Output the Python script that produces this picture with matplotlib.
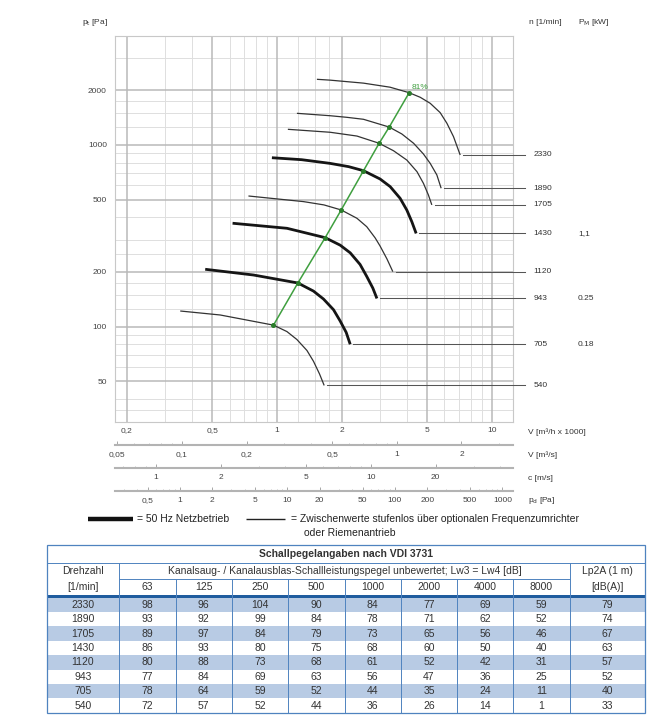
import matplotlib
matplotlib.use('Agg')
import matplotlib.pyplot as plt
from matplotlib.ticker import FixedLocator, FixedFormatter, NullLocator, NullFormatter
from matplotlib.patches import Rectangle

plt.rcParams['font.family'] = ['Liberation Sans', 'DejaVu Sans']

# ---------------- data ----------------
speeds = [2330, 1890, 1705, 1430, 1120, 943, 705, 540]
thick_50hz = [False, False, False, True, False, True, True, False]
motor_kw = ['', '', '', '1,1', '', '0.25', '0.18', '']

v_2330 = [1.53, 1.76, 2.52, 3.35, 4.11, 4.63, 5.15, 5.73, 6.16, 6.61, 7.10]
p_2330 = [2299, 2275, 2190, 2080, 1940, 1830, 1696, 1507, 1316, 1111, 881]
v_1890 = [1.235, 1.764, 2.11, 2.52, 3.32, 3.80, 4.31, 4.79, 5.15, 5.53, 5.79]
p_1890 = [1494, 1449, 1420, 1385, 1255, 1150, 1022, 892, 792, 684, 578]
v_1705 = [1.121, 1.764, 2.35, 2.98, 3.475, 4.01, 4.47, 4.79, 5.05, 5.24]
p_1705 = [1220, 1175, 1120, 1022, 930, 826, 713, 615, 531, 468]
v_1430 = [0.945, 1.30, 1.764, 2.15, 2.52, 3.01, 3.354, 3.73, 4.01, 4.23, 4.43]
p_1430 = [851, 830, 792, 760, 722, 650, 590, 509, 438, 378, 326]
v_1120 = [0.735, 1.325, 1.65, 1.985, 2.35, 2.61, 2.856, 3.01, 3.24, 3.45]
p_1120 = [524, 488, 468, 439, 395, 355, 308, 278, 236, 201]
v_943 = [0.62, 1.11, 1.672, 1.963, 2.186, 2.43, 2.61, 2.786, 2.91]
p_943 = [371, 348, 309, 281, 255, 220, 189, 163, 143]
v_705 = [0.4625, 0.776, 1.248, 1.475, 1.642, 1.828, 1.963, 2.094, 2.186]
p_705 = [207, 192.5, 174, 157, 142, 124, 107.5, 93, 80]
v_540 = [0.354, 0.543, 0.961, 1.11, 1.235, 1.375, 1.475, 1.573, 1.654]
p_540 = [122, 116, 102, 94, 85, 74, 64.5, 55, 47.5]

eff_v = [0.961, 1.248, 1.672, 1.985, 2.52, 2.98, 3.32, 4.11]
eff_p = [102, 174, 309, 439, 722, 1022, 1255, 1940]
eff_label = '81%'

x_ticks = [0.2, 0.5, 1, 2, 5, 10]
x_ticklabels = ['0,2', '0,5', '1', '2', '5', '10']
y_ticks = [50, 100, 200, 500, 1000, 2000]
y_ticklabels = ['50', '100', '200', '500', '1000', '2000']
grid_major_v = [0.2, 0.5, 1, 2, 5, 10]
grid_minor_v = [0.3, 0.4, 0.6, 0.7, 0.8, 0.9, 1.25, 1.5, 1.75, 3, 4, 6, 7, 8, 9]
grid_major_h = [50, 100, 200, 500, 1000, 2000]
grid_minor_h = [35, 40, 60, 70, 80, 90, 125, 150, 175, 250, 300, 400,
                600, 700, 800, 900, 1250, 1500, 1750, 3000]

q_ticks = [0.05, 0.1, 0.2, 0.5, 1, 2]
q_labels = ['0,05', '0,1', '0,2', '0,5', '1', '2']
c_ticks = [1, 2, 5, 10, 20]
c_labels = ['1', '2', '5', '10', '20']
pd_ticks = [0.5, 1, 2, 5, 10, 20, 50, 100, 200, 500, 1000]
pd_labels = ['0,5', '1', '2', '5', '10', '20', '50', '100', '200', '500', '1000']
m3h_per_m3s = 3.6       # 1000 m3/h per m3/s
c_per_v = 3.66          # m/s per 1000 m3/h (outlet area)
rho_half = 0.6          # pd = rho/2 * c^2

table_title = 'Schallpegelangaben nach VDI 3731'
table_freqs = ['63', '125', '250', '500', '1000', '2000', '4000', '8000']
lw_2330 = [98, 96, 104, 90, 84, 77, 69, 59]
lw_1890 = [93, 92, 99, 84, 78, 71, 62, 52]
lw_1705 = [89, 97, 84, 79, 73, 65, 56, 46]
lw_1430 = [86, 93, 80, 75, 68, 60, 50, 40]
lw_1120 = [80, 88, 73, 68, 61, 52, 42, 31]
lw_943 = [77, 84, 69, 63, 56, 47, 36, 25]
lw_705 = [78, 64, 59, 52, 44, 35, 24, 11]
lw_540 = [72, 57, 52, 44, 36, 26, 14, 1]
lp2a = [79, 74, 67, 63, 57, 52, 40, 33]

curves_v = [v_2330, v_1890, v_1705, v_1430, v_1120, v_943, v_705, v_540]
curves_p = [p_2330, p_1890, p_1705, p_1430, p_1120, p_943, p_705, p_540]
lw_rows = [lw_2330, lw_1890, lw_1705, lw_1430, lw_1120, lw_943, lw_705, lw_540]

# ---------------- layout ----------------
W, H = 670, 719
fig = plt.figure(figsize=(W / 100, H / 100), dpi=100)
fig.patch.set_facecolor('white')


def fx(px):
    return px / W


def fy(py):
    return 1 - py / H


AX_L, AX_R, AX_T, AX_B = 115, 513, 35.6, 421.7
ax = fig.add_axes([fx(AX_L), fy(AX_B), fx(AX_R) - fx(AX_L), fy(AX_T) - fy(AX_B)])
ax.set_xscale('log')
ax.set_yscale('log')
ax.set_xlim(0.176, 12.5)
ax.set_ylim(30, 4000)

for v in grid_minor_v:
    ax.axvline(v, color='#dedede', lw=0.7, zorder=1)
for v in grid_major_v:
    ax.axvline(v, color='#b9b9b9', lw=1.1, zorder=1.5)
for p in grid_minor_h:
    ax.axhline(p, color='#dedede', lw=0.7, zorder=1)
for p in grid_major_h:
    ax.axhline(p, color='#b9b9b9', lw=1.1, zorder=1.5)

ax.xaxis.set_major_locator(FixedLocator(x_ticks))
ax.xaxis.set_major_formatter(FixedFormatter(x_ticklabels))
ax.yaxis.set_major_locator(FixedLocator(y_ticks))
ax.yaxis.set_major_formatter(FixedFormatter(y_ticklabels))
ax.xaxis.set_minor_locator(NullLocator())
ax.yaxis.set_minor_locator(NullLocator())
ax.tick_params(axis='x', length=0, labelsize=6, labelcolor='#444', pad=4)
ax.tick_params(axis='y', length=0, labelsize=6, labelcolor='#444', pad=5.8)
for s in ax.spines.values():
    s.set_color('#c8c8c8')
    s.set_linewidth(0.8)

# fan curves
label_line_end = 14.2
label_x = 15.6
kw_x = 25.1
for n, th, vv, pp, kw in zip(speeds, thick_50hz, curves_v, curves_p, motor_kw):
    ax.plot(vv, pp, color='#151515' if th else '#333333', lw=2.0 if th else 0.9,
            zorder=3, solid_capstyle='butt', solid_joinstyle='round')
    ax.plot([vv[-1] * 1.035, label_line_end], [pp[-1], pp[-1]], color='#555555',
            lw=0.75, zorder=3, clip_on=False)
    ax.text(label_x, pp[-1], str(n), fontsize=6, color='#333', va='center',
            ha='left', clip_on=False)
    if kw:
        ax.text(kw_x, pp[-1], kw, fontsize=6, color='#333', va='center',
                ha='left', clip_on=False)

# efficiency line
ax.plot(eff_v, eff_p, color='#3f9f3f', lw=1.1, zorder=4)
ax.plot(eff_v, eff_p, 'o', ms=2.6, color='#2b7d2b', zorder=5)
ax.annotate(eff_label, (eff_v[-1], eff_p[-1]), xytext=(1.5, 1.5),
            textcoords='offset points', fontsize=6, color='#3f9f3f',
            ha='left', va='bottom', zorder=6)

# ---------------- secondary scale bars ----------------
lo, hi = ax.get_xlim()


def add_bar(y_line, ticks, labels, conv):
    b = fig.add_axes([fx(AX_L), fy(y_line), fx(AX_R) - fx(AX_L), 0.0001])
    b.set_xscale('log')
    b.set_xlim(conv(lo), conv(hi))
    b.patch.set_visible(False)
    for k, s in b.spines.items():
        s.set_visible(k == 'bottom')
    b.spines['bottom'].set_color('#b3b3b3')
    b.spines['bottom'].set_linewidth(1.5)
    b.set_yticks([])
    b.xaxis.set_major_locator(FixedLocator(ticks))
    b.xaxis.set_major_formatter(FixedFormatter(labels))
    b.xaxis.set_minor_formatter(NullFormatter())
    b.tick_params(axis='x', which='major', direction='in', length=3, width=0.6,
                  color='#999999', labelsize=6, labelcolor='#444', pad=4)
    b.tick_params(axis='x', which='minor', direction='in', length=1.6, width=0.5,
                  color='#aaaaaa')
    return b


add_bar(445, q_ticks, q_labels, lambda v: v / m3h_per_m3s)
add_bar(468.3, c_ticks, c_labels, lambda v: v * c_per_v)
add_bar(491, pd_ticks, pd_labels, lambda v: rho_half * (v * c_per_v) ** 2)

# ---------------- overlay (pixel coordinates) ----------------
ov = fig.add_axes([0, 0, 1, 1])
ov.set_xlim(0, W)
ov.set_ylim(H, 0)
ov.axis('off')

txt = dict(fontsize=6, color='#333', va='center', ha='left')
ov.text(82, 22, 'p$_\\mathrm{t}$ [Pa]', **txt)
ov.text(529, 22, 'n [1/min]', **txt)
ov.text(578, 22, 'P$_\\mathrm{M}$ [kW]', **txt)
ov.text(528, 431.7, 'V [m³/h x 1000]', **txt)
ov.text(528, 455, 'V [m³/s]', **txt)
ov.text(528, 478.3, 'c [m/s]', **txt)
ov.text(528, 501, 'p$_\\mathrm{d}$ [Pa]', **txt)

# legend
ov.plot([88, 133], [519.3, 519.3], color='#111', lw=3.2, solid_capstyle='butt')
ov.text(137, 519.3, '= 50 Hz Netzbetrieb', fontsize=7.5, color='#222', va='center', ha='left')
ov.plot([246, 285], [519.3, 519.3], color='#222', lw=1.0, solid_capstyle='butt')
ov.text(291, 519.3, '= Zwischenwerte stufenlos über optionalen Frequenzumrichter',
        fontsize=7.5, color='#222', va='center', ha='left')
ov.text(304, 533.5, 'oder Riemenantrieb', fontsize=7.5, color='#222', va='center', ha='left')

# table
TX0, TX1 = 46.7, 645
TY0, Y_TITLE, Y_HDR, Y_BLUE, Y_DATA = 545, 562.7, 579.3, 595, 597.6
ROW_H = 14.4
COL0 = 119.3
COL_W = 56.3
cols = [COL0 + COL_W * k for k in range(9)]
TY1 = Y_DATA + ROW_H * len(speeds)
band = '#b8cbe4'
edge = '#4f83bf'

for i in range(len(speeds)):
    if i % 2 == 0:
        ov.add_patch(Rectangle((TX0, Y_DATA + i * ROW_H), TX1 - TX0, ROW_H,
                               facecolor=band, edgecolor='none', zorder=1))
ov.add_patch(Rectangle((TX0, Y_BLUE), TX1 - TX0, Y_DATA - Y_BLUE,
                       facecolor='#1f5c9e', edgecolor='none', zorder=2))
ov.add_patch(Rectangle((TX0, TY0), TX1 - TX0, TY1 - TY0, facecolor='none',
                       edgecolor=edge, lw=0.9, zorder=3))
ov.plot([TX0, TX1], [Y_TITLE, Y_TITLE], color=edge, lw=0.7, zorder=3)
ov.plot([cols[0], cols[-1]], [Y_HDR, Y_HDR], color=edge, lw=0.7, zorder=3)
for xc in (cols[0], cols[-1]):
    ov.plot([xc, xc], [Y_TITLE, TY1], color=edge, lw=0.7, zorder=3)
for xc in cols[1:-1]:
    ov.plot([xc, xc], [Y_HDR, TY1], color=edge, lw=0.7, zorder=3)

tt = dict(fontsize=7.5, color='#333', va='center', ha='center', zorder=4)
ov.text((TX0 + TX1) / 2, (TY0 + Y_TITLE) / 2 + 0.5, table_title,
        fontweight='bold', **tt)
c_first = (TX0 + cols[0]) / 2
c_last = (cols[-1] + TX1) / 2
ov.text(c_first, (Y_TITLE + Y_HDR) / 2 + 0.5, 'Drehzahl', **tt)
ov.text(c_first, (Y_HDR + Y_BLUE) / 2, '[1/min]', **tt)
ov.text((cols[0] + cols[-1]) / 2, (Y_TITLE + Y_HDR) / 2 + 0.5,
        'Kanalsaug- / Kanalausblas-Schallleistungspegel unbewertet; Lw3 = Lw4 [dB]', **tt)
ov.text(c_last, (Y_TITLE + Y_HDR) / 2 + 0.5, 'Lp2A (1 m)', **tt)
ov.text(c_last, (Y_HDR + Y_BLUE) / 2, '[dB(A)]', **tt)
for k, f in enumerate(table_freqs):
    ov.text((cols[k] + cols[k + 1]) / 2, (Y_HDR + Y_BLUE) / 2, f, **tt)
for i, (n, row, lp) in enumerate(zip(speeds, lw_rows, lp2a)):
    yc = Y_DATA + (i + 0.5) * ROW_H
    ov.text(c_first, yc, str(n), **tt)
    for k, val in enumerate(row):
        ov.text((cols[k] + cols[k + 1]) / 2, yc, str(val), **tt)
    ov.text(c_last, yc, str(lp), **tt)

fig.savefig('out.png', dpi=100)
